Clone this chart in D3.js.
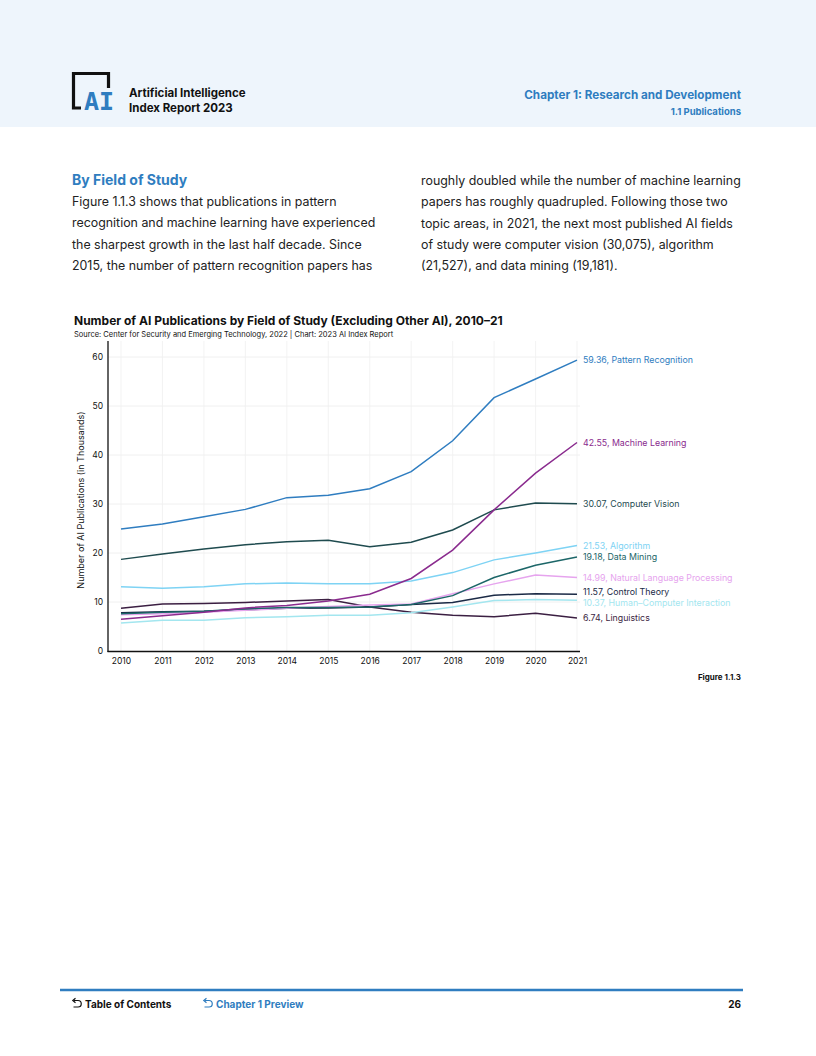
<!DOCTYPE html>
<html>
<head>
<meta charset="utf-8">
<script src="https://cdn.jsdelivr.net/npm/d3@7"></script>
<style>
  body { margin: 0; background: #fff; }
  svg text { font-family: Inter, "Open Sans", sans-serif; }
</style>
</head>
<body>
<div id="page"></div>
<script>
// years + series values (thousands of publications)
const years = [2010, 2011, 2012, 2013, 2014, 2015, 2016, 2017, 2018, 2019, 2020, 2021];

const patternRecognition = [24.9, 25.9, 27.4, 28.9, 31.3, 31.8, 33.1, 36.6, 42.9, 51.7, 55.5, 59.36];
const machineLearning    = [6.5, 7.2, 7.9, 8.8, 9.3, 10.2, 11.6, 14.8, 20.6, 28.8, 36.3, 42.55];
const computerVision     = [18.7, 19.8, 20.8, 21.7, 22.3, 22.6, 21.3, 22.2, 24.7, 28.8, 30.2, 30.07];
const algorithm          = [13.1, 12.8, 13.1, 13.7, 13.9, 13.7, 13.7, 14.3, 16.0, 18.6, 20.0, 21.53];
const dataMining         = [7.6, 7.9, 8.1, 8.6, 8.9, 8.9, 9.0, 9.5, 11.3, 15.0, 17.5, 19.18];
const nlp                = [7.4, 7.6, 7.9, 8.3, 8.7, 9.1, 9.4, 9.6, 11.7, 13.7, 15.5, 14.99];
const controlTheory      = [7.8, 8.0, 8.1, 8.4, 8.7, 8.8, 9.0, 9.5, 9.9, 11.4, 11.7, 11.57];
const hci                = [5.7, 6.3, 6.3, 6.8, 7.0, 7.3, 7.3, 7.8, 9.0, 10.3, 10.5, 10.37];
const linguistics        = [8.7, 9.6, 9.7, 9.9, 10.2, 10.5, 9.0, 7.9, 7.3, 7.0, 7.7, 6.74];

const seriesNames = ['Pattern Recognition', 'Machine Learning', 'Computer Vision', 'Algorithm',
    'Data Mining', 'Natural Language Processing', 'Control Theory', 'Human–Computer Interaction', 'Linguistics'];
const seriesValues = [patternRecognition, machineLearning, computerVision, algorithm,
    dataMining, nlp, controlTheory, hci, linguistics];
const seriesColors = ['#2f7dc0', '#8a2b8e', '#1f4b4f', '#7ed3f4', '#1c6668', '#e6a4ee', '#1b2a46', '#a3e6ef', '#3b1f42'];

const yTicks = [0, 10, 20, 30, 40, 50, 60];

const blue = '#2f7dc0';

const svg = d3.select('#page').append('svg')
    .attr('width', 816)
    .attr('height', 1056);

// header band
svg.append('rect').attr('x', 0).attr('y', 0).attr('width', 816).attr('height', 127).attr('fill', '#eef5fc');

// logo - black bracket + blocky AI
svg.append('path')
    .attr('d', 'M81,108 H73.5 V73.5 H108.5 V88')
    .attr('fill', 'none').attr('stroke', '#111').attr('stroke-width', 3.2);
svg.append('text').attr('x', 84).attr('y', 110)
    .style('font-family', '"DejaVu Sans Mono", monospace')
    .style('font-weight', 700).style('font-size', '25px')
    .attr('fill', blue).text('AI');

svg.append('text').attr('x', 129).attr('y', 97)
    .style('font-weight', 700).style('font-size', '11.5px').attr('fill', '#111')
    .text('Artificial Intelligence');
svg.append('text').attr('x', 129).attr('y', 112)
    .style('font-weight', 700).style('font-size', '11.5px').attr('fill', '#111')
    .text('Index Report 2023');

svg.append('text').attr('x', 741).attr('y', 99).attr('text-anchor', 'end')
    .style('font-weight', 700).style('font-size', '11.7px').attr('fill', blue)
    .text('Chapter 1: Research and Development');
svg.append('text').attr('x', 741).attr('y', 115).attr('text-anchor', 'end')
    .style('font-weight', 700).style('font-size', '9.5px').attr('fill', blue)
    .text('1.1 Publications');

// body text
svg.append('text').attr('x', 72).attr('y', 185)
    .style('font-weight', 700).style('font-size', '14px').attr('fill', blue)
    .text('By Field of Study');

const leftLines = [
    'Figure 1.1.3 shows that publications in pattern',
    'recognition and machine learning have experienced',
    'the sharpest growth in the last half decade. Since',
    '2015, the number of pattern recognition papers has'
];
const rightLines = [
    'roughly doubled while the number of machine learning',
    'papers has roughly quadrupled. Following those two',
    'topic areas, in 2021, the next most published AI fields',
    'of study were computer vision (30,075), algorithm',
    '(21,527), and data mining (19,181).'
];
svg.selectAll('.pl').data(leftLines).enter().append('text')
    .attr('class', 'pl')
    .attr('x', 72).attr('y', (d, i) => 206 + i * 21.3)
    .style('font-size', '12.4px').attr('fill', '#222')
    .text(d => d);
svg.selectAll('.pr').data(rightLines).enter().append('text')
    .attr('class', 'pr')
    .attr('x', 421).attr('y', (d, i) => 185 + i * 21.3)
    .style('font-size', '12.4px').attr('fill', '#222')
    .text(d => d);

// chart title
svg.append('text').attr('x', 74).attr('y', 325)
    .style('font-weight', 700).style('font-size', '12px').attr('fill', '#111')
    .text('Number of AI Publications by Field of Study (Excluding Other AI), 2010–21');
svg.append('text').attr('x', 74).attr('y', 337)
    .style('font-size', '7.5px').attr('fill', '#111')
    .text('Source: Center for Security and Emerging Technology, 2022 | Chart: 2023 AI Index Report');

// plot
const x = d3.scaleLinear().domain([2010, 2021]).range([121, 577]);
const y = d3.scaleLinear().domain([0, 60]).range([651, 357]);

const plot = svg.append('g');

// grid
plot.selectAll('.hgrid').data(yTicks.slice(1)).enter().append('line')
    .attr('class', 'hgrid')
    .attr('x1', 108).attr('x2', 580)
    .attr('y1', d => y(d)).attr('y2', d => y(d))
    .style('stroke', '#ececec').style('stroke-width', '0.8px');
plot.selectAll('.vgrid').data(years).enter().append('line')
    .attr('class', 'vgrid')
    .attr('x1', d => x(d)).attr('x2', d => x(d))
    .attr('y1', 341).attr('y2', 651)
    .style('stroke', '#f0f0f0').style('stroke-width', '0.8px');

// axes
const yAxis = plot.append('g').attr('transform', 'translate(108,0)')
    .call(d3.axisLeft(y).tickValues(yTicks).tickSize(0).tickPadding(5));
yAxis.select('.domain').remove();
yAxis.selectAll('text').style('font-size', '8.5px').attr('fill', '#111').style('font-family', 'Inter, sans-serif');

const xAxis = plot.append('g').attr('transform', 'translate(0,651)')
    .call(d3.axisBottom(x).tickValues(years).tickFormat(d3.format('d')).tickSize(0).tickPadding(7));
xAxis.select('.domain').remove();
xAxis.selectAll('text').style('font-size', '8.5px').attr('fill', '#111').style('font-family', 'Inter, sans-serif');

plot.append('line').attr('x1', 108).attr('x2', 108).attr('y1', 341).attr('y2', 652)
    .style('stroke', '#111').style('stroke-width', '1.3px');
plot.append('line').attr('x1', 107.5).attr('x2', 580).attr('y1', 651.5).attr('y2', 651.5)
    .style('stroke', '#111').style('stroke-width', '1.3px');

svg.append('text')
    .attr('transform', 'translate(84,' + (y(30) - 4) + ') rotate(-90)')
    .attr('text-anchor', 'middle')
    .style('font-size', '9px').attr('fill', '#111')
    .text('Number of AI Publications (in Thousands)');

// lines
const lineGen = d3.line()
    .x((d, i) => x(years[i]))
    .y(d => y(d));

// draw in reverse so blue/purple sit on top
const seriesData = seriesNames.map((n, i) => ({name: n, values: seriesValues[i], color: seriesColors[i]}));
plot.selectAll('.series').data(seriesData.slice().reverse()).enter().append('path')
    .attr('class', 'series')
    .attr('d', d => lineGen(d.values))
    .style('fill', 'none')
    .style('stroke', d => d.color)
    .style('stroke-width', '1.5px');

// end labels, nudged apart so they don't overlap
const labels = seriesData.map(d => ({...d, last: d.values[d.values.length - 1], ly: y(d.values[d.values.length - 1])}));
labels.sort((a, b) => a.ly - b.ly);
for (let k = 0; k < 20; k++) {
    for (let i = 1; i < labels.length; i++) {
        const gap = labels[i].ly - labels[i - 1].ly;
        if (gap < 11.5) {
            const push = (11.5 - gap) / 2;
            labels[i].ly += push;
            labels[i - 1].ly -= push;
        }
    }
}
plot.selectAll('.endlabel').data(labels).enter().append('text')
    .attr('class', 'endlabel')
    .attr('x', 583).attr('y', d => d.ly).attr('dy', '0.35em')
    .style('font-size', '8.8px')
    .attr('fill', d => d.color)
    .text(d => d3.format('.2f')(d.last) + ', ' + d.name);

svg.append('text').attr('x', 741).attr('y', 680).attr('text-anchor', 'end')
    .style('font-weight', 700).style('font-size', '8px').attr('fill', '#111')
    .text('Figure 1.1.3');

// footer
svg.append('line').attr('x1', 60).attr('x2', 743).attr('y1', 990).attr('y2', 990)
    .style('stroke', blue).style('stroke-width', '2.5px');

function backArrow(x0, col) {
    svg.append('path')
        .attr('d', `M${x0 + 2},${1000.5} H${x0 + 6} A3.2,3.2 0 0 1 ${x0 + 6},${1007} H${x0 + 1.5}`)
        .attr('fill', 'none').attr('stroke', col).attr('stroke-width', 1.2);
    svg.append('path')
        .attr('d', `M${x0 + 3.5},${998.3} L${x0 + 0.8},${1000.5} L${x0 + 3.5},${1002.7}`)
        .attr('fill', 'none').attr('stroke', col).attr('stroke-width', 1.2);
}
backArrow(72, '#111');
backArrow(203, blue);
svg.append('text').attr('x', 85).attr('y', 1008)
    .style('font-weight', 700).style('font-size', '10px').attr('fill', '#111')
    .text('Table of Contents');
svg.append('text').attr('x', 216).attr('y', 1008)
    .style('font-weight', 700).style('font-size', '10px').attr('fill', blue)
    .text('Chapter 1 Preview');
svg.append('text').attr('x', 741).attr('y', 1008).attr('text-anchor', 'end')
    .style('font-weight', 700).style('font-size', '10px').attr('fill', '#111')
    .text('26');
</script>
</body>
</html>
